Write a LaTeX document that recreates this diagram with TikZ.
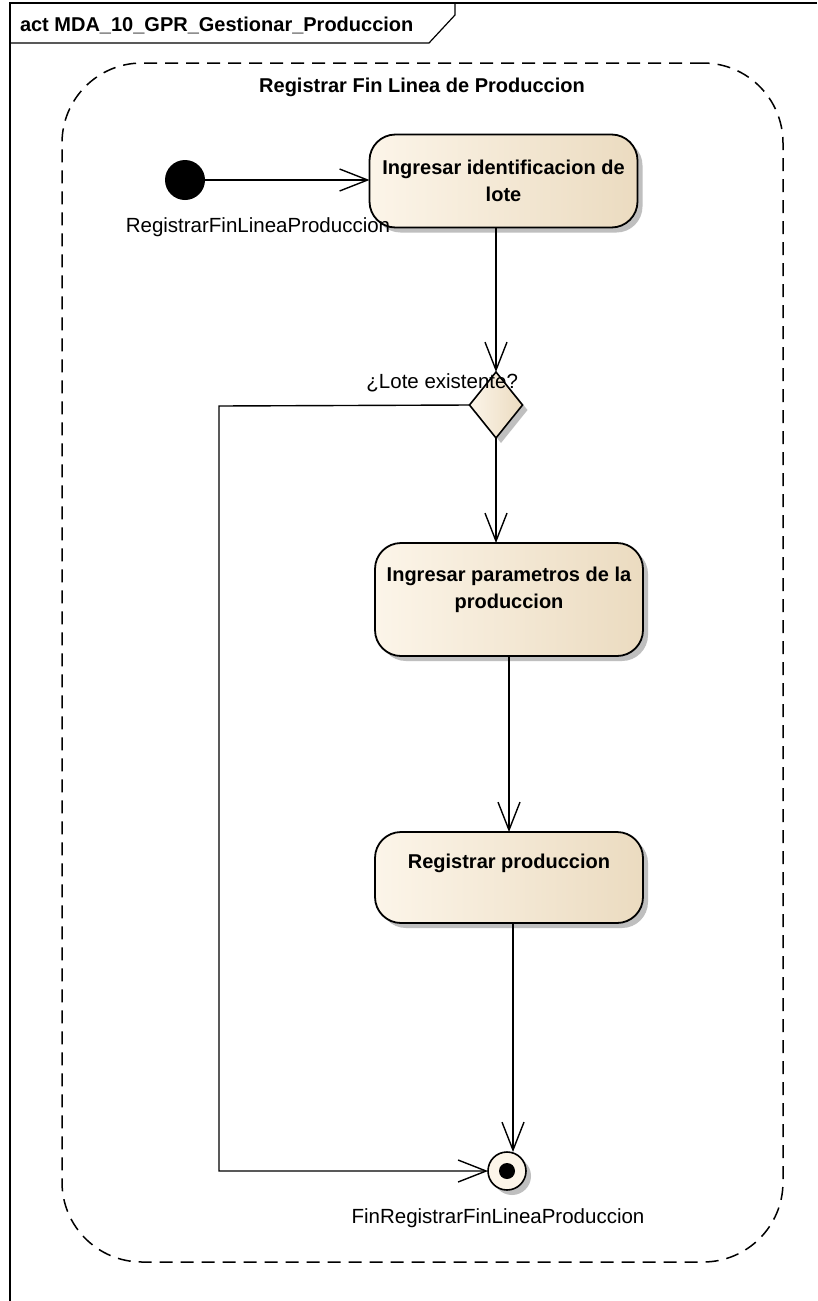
\documentclass[tikz,border=0pt]{standalone}
\usepackage{fontspec}
\setmainfont{Liberation Sans}
\usetikzlibrary{arrows.meta,shapes.geometric,shadows}
\definecolor{actL}{RGB}{252,245,233}
\definecolor{actR}{RGB}{235,219,192}
\begin{document}
\begin{tikzpicture}[x=1pt,y=-1pt,
  every node/.style={inner sep=0pt, outer sep=0pt},
  lbl/.style={font=\fontsize{20.5}{26}\selectfont},
  bold/.style={font=\fontsize{20}{27}\selectfont\bfseries, align=center},
  shd/.style={drop shadow={shadow xshift=5pt, shadow yshift=-5pt, fill=black!25, opacity=1}},
  actbox/.style={draw=black, line width=1.8pt, rounded corners=26pt, left color=actL, right color=actR, shd, minimum width=268pt},
  arr/.style={draw, line width=1.4pt, -{Straight Barb[length=28pt,width=22pt,line width=1.4pt]}},
]
\useasboundingbox (0,0) rectangle (817,1301);
\fill[white] (0,0) rectangle (817,1301);
% frame
\draw[line width=2pt] (10,1301) -- (10,3) -- (817,3);
\draw[line width=1.2pt] (10,43) -- (429,43) -- (455,15) -- (455,3);
\node[bold, anchor=west] (title) at (20,25) {act MDA\_10\_GPR\_Gestionar\_Produccion};
% region
\node[draw, line width=1.5pt, dash pattern=on 13pt off 8pt, rounded corners=80pt, minimum width=721pt, minimum height=1199pt] (region) at (422.5,662.5) {};
\node[bold] (rtitle) at (422,87) {Registrar Fin Linea de Produccion};
% nodes
\node[circle, fill=black, minimum size=40pt] (ini) at (185,180) {};
\node[actbox, minimum height=93pt] (a1) at (503.5,181) {};
\node[bold] (a1t) at (503.5,181) {Ingresar identificacion de\\lote};
\node[diamond, draw=black, line width=1.6pt, left color=actL, right color=actR, shd, minimum width=53pt, minimum height=66pt] (dia) at (496,405) {};
\node[actbox, minimum height=113pt] (a2) at (509,599.5) {};
\node[bold] (a2t) at (509,590) {Ingresar parametros de la\\produccion};
\node[actbox, minimum height=91pt] (a3) at (509,877.5) {};
\node[bold] (a3t) at (509,863) {Registrar produccion};
\node[circle, draw=black, line width=1.6pt, fill=actL, minimum size=38pt, shd] (fin) at (507,1171) {};
\node[circle, fill=black, minimum size=16pt] (finb) at (fin) {};
% connectors
\draw[arr] (ini.east) -- (ini.east -| a1.west);
\draw[arr] (dia.north |- a1.south) -- (dia.north);
\draw[arr] (dia.south) -- (dia.south |- a2.north);
\draw[arr] (a2.south) -- (a3.north);
\coordinate (c3) at ([xshift=4pt]a3.south);
\draw[arr] (c3) -- (c3 |- fin.north);
\coordinate (lp) at (219,406);
\draw[arr] (dia.west) -- (lp) |- (fin.west);
% labels
\node[lbl] (inilbl) at (258,227) {RegistrarFinLineaProduccion};
\node[lbl, anchor=east] (dlbl) at (518,383) {¿Lote existente?};
\node[lbl] (finlbl) at (498,1218) {FinRegistrarFinLineaProduccion};
\end{tikzpicture}
\end{document}
